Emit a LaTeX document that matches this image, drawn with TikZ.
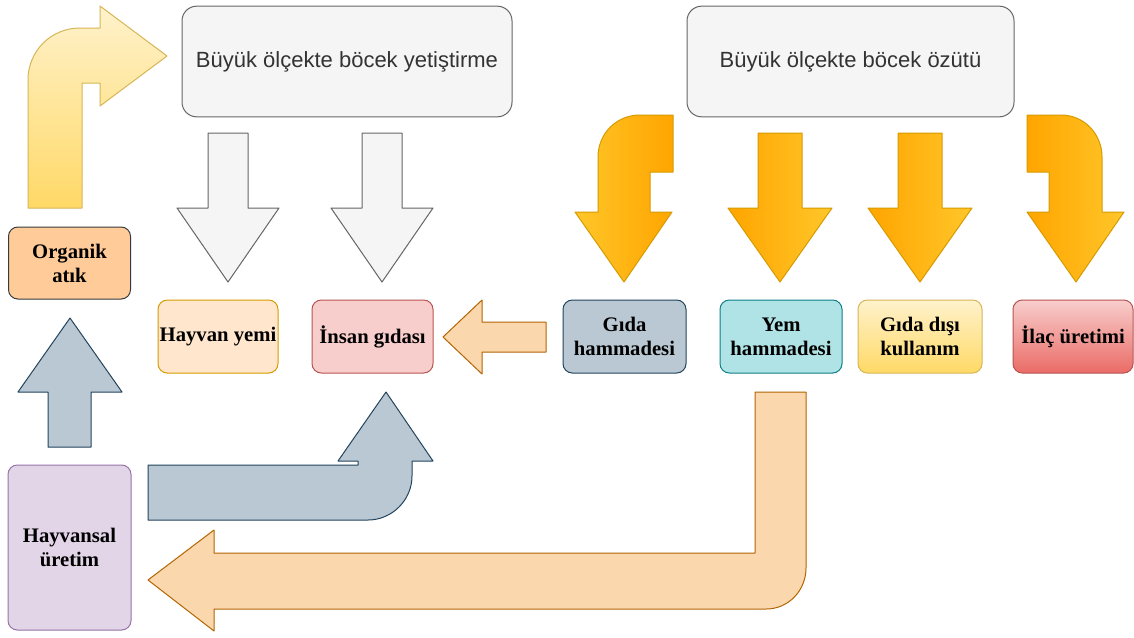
\documentclass[tikz,border=0pt]{standalone}
\usepackage{fontspec}
\setmainfont{Liberation Serif}
\newfontfamily\sansfam{Liberation Sans}
\usepackage{tikz}
\usetikzlibrary{calc, positioning}

\definecolor{topfill}{HTML}{F5F5F5}
\definecolor{topline}{HTML}{666666}
\definecolor{toptext}{HTML}{333333}
\definecolor{orgfill}{HTML}{FFCC99}
\definecolor{orgline}{HTML}{36393D}
\definecolor{yemfill}{HTML}{FFE6CC}
\definecolor{yemline}{HTML}{D79B00}
\definecolor{insfill}{HTML}{F8CECC}
\definecolor{insline}{HTML}{B85450}
\definecolor{gidfill}{HTML}{BAC8D3}
\definecolor{gidline}{HTML}{23445D}
\definecolor{yhfill}{HTML}{B0E3E6}
\definecolor{yhline}{HTML}{0E8088}
\definecolor{paleyel}{HTML}{FFF2CC}
\definecolor{deepyel}{HTML}{FFD966}
\definecolor{yelline}{HTML}{D6B656}
\definecolor{ilacbot}{HTML}{EA6B66}
\definecolor{hayfill}{HTML}{E1D5E7}
\definecolor{hayline}{HTML}{9673A6}
\definecolor{peach}{HTML}{FAD7AC}
\definecolor{peachline}{HTML}{B46504}
\definecolor{ordark}{HTML}{FFA500}
\definecolor{orlight}{HTML}{FFC629}
\definecolor{orline}{HTML}{D79B00}

\begin{document}
\begin{tikzpicture}[x=0.75pt, y=-0.75pt, line width=0.75pt, line join=round,
	topbox/.style={draw=topline, fill=topfill, rounded corners=11pt, minimum height=83pt, text=toptext, font=\sansfam\fontsize{16.5}{20}\selectfont},
	box/.style={draw, rounded corners=7pt, minimum width=91.5pt, minimum height=54.75pt, align=center, inner sep=1pt, font=\bfseries\fontsize{15.5}{18}\selectfont},
	grayblk/.style={draw=topline, fill=topfill},
	orblk/.style={draw=orline, left color=ordark, right color=orlight},
	peachblk/.style={draw=peachline, fill=peach},
	blueblk/.style={draw=gidline, fill=gidfill}]

		\fill[white] (0,0) rectangle (1134,637);
		\useasboundingbox (0,0) rectangle (1134,637);

		\node[topbox, minimum width=247.5pt] (Yet) at (347,61.5) {Büyük ölçekte böcek yetiştirme};
		\node[topbox, minimum width=245.25pt] (Ozu) at (850.5,61.5) {Büyük ölçekte böcek özütü};

		\node[box, draw=orgline, fill=orgfill, minimum height=54pt] (Org) at (69.5,263) {Organik\\atık};
		\node[box, draw=yemline, fill=yemfill, minimum width=90pt] (Yemi) at (218,336.5) {Hayvan yemi};
		\node[box, draw=insline, fill=insfill, minimum width=90.75pt] (Insan) at (372.5,336.5) {İnsan gıdası};
		\node[box, draw=gidline, fill=gidfill, minimum width=92.25pt] (GidaH) at (624.5,336.5) {Gıda\\hammadesi};
		\node[box, draw=yhline, fill=yhfill] (YemH) at (781,336.5) {Yem\\hammadesi};
		\node[box, draw=yelline, top color=paleyel, bottom color=deepyel, minimum width=93pt] (Disi) at (920,336.5) {Gıda dışı\\kullanım};
		\node[box, draw=insline, top color=insfill, bottom color=ilacbot, minimum width=90pt] (Ilac) at (1073,336.5) {İlaç üretimi};
		\node[box, draw=hayline, fill=hayfill, minimum width=92.25pt, minimum height=123.75pt] (Hayv) at (69.5,547.5) {Hayvansal\\üretim};

		\draw[draw=yelline, top color=paleyel, bottom color=deepyel]
		(28,208) -- (28,80) .. controls (28,51) and (51,28) .. (80,28) -- (100,28) -- (100,6)
		-- (167,56) -- (100,106) -- (100,83) -- (82,83) -- (82,208) -- cycle;

		\foreach \cx in {228,382}
		\draw[grayblk] (\cx-20,133) -- (\cx+20,133) -- (\cx+20,208) -- (\cx+51,208)
		-- (\cx,282) -- (\cx-51,208) -- (\cx-20,208) -- cycle;

		\foreach \cx in {780,920}
		\draw[orblk] (\cx-22,133) -- (\cx+22,133) -- (\cx+22,208) -- (\cx+52,208)
		-- (\cx,282) -- (\cx-52,208) -- (\cx-22,208) -- cycle;

		\draw[draw=orline, left color=orlight, right color=ordark]
		(673,115) -- (673,172) -- (650,172) -- (650,212) -- (672,212) -- (624,282)
		-- (575,212) -- (598,212) -- (598,157) .. controls (598,134) and (616,115) .. (640,115) -- cycle;

		\draw[orblk]
		(1027,115) -- (1027,172) -- (1049,172) -- (1049,212) -- (1027,212) -- (1076,282)
		-- (1124,212) -- (1102,212) -- (1102,157) .. controls (1102,134) and (1084,115) .. (1061,115) -- cycle;

		\draw[peachblk] (546,322) -- (482,322) -- (482,300) -- (443,337) -- (482,374)
		-- (482,352) -- (546,352) -- cycle;

		\draw[blueblk] (48,447) -- (48,392) -- (18,392) -- (70,318) -- (122,392)
		-- (91,392) -- (91,447) -- cycle;

		\draw[blueblk] (148,465) -- (358,465) -- (358,461) -- (338,461) -- (386,392)
		-- (433,461) -- (412,461) -- (412,476) .. controls (412,500) and (392,520) .. (368,520)
		-- (148,520) -- cycle;

		\draw[peachblk] (755,392) -- (806,392) -- (806,568) .. controls (806,590) and (789,609) .. (766,609)
		-- (214,609) -- (214,631) -- (148,580) -- (214,530) -- (214,553) -- (755,553) -- cycle;

	\end{tikzpicture}
\end{document}
